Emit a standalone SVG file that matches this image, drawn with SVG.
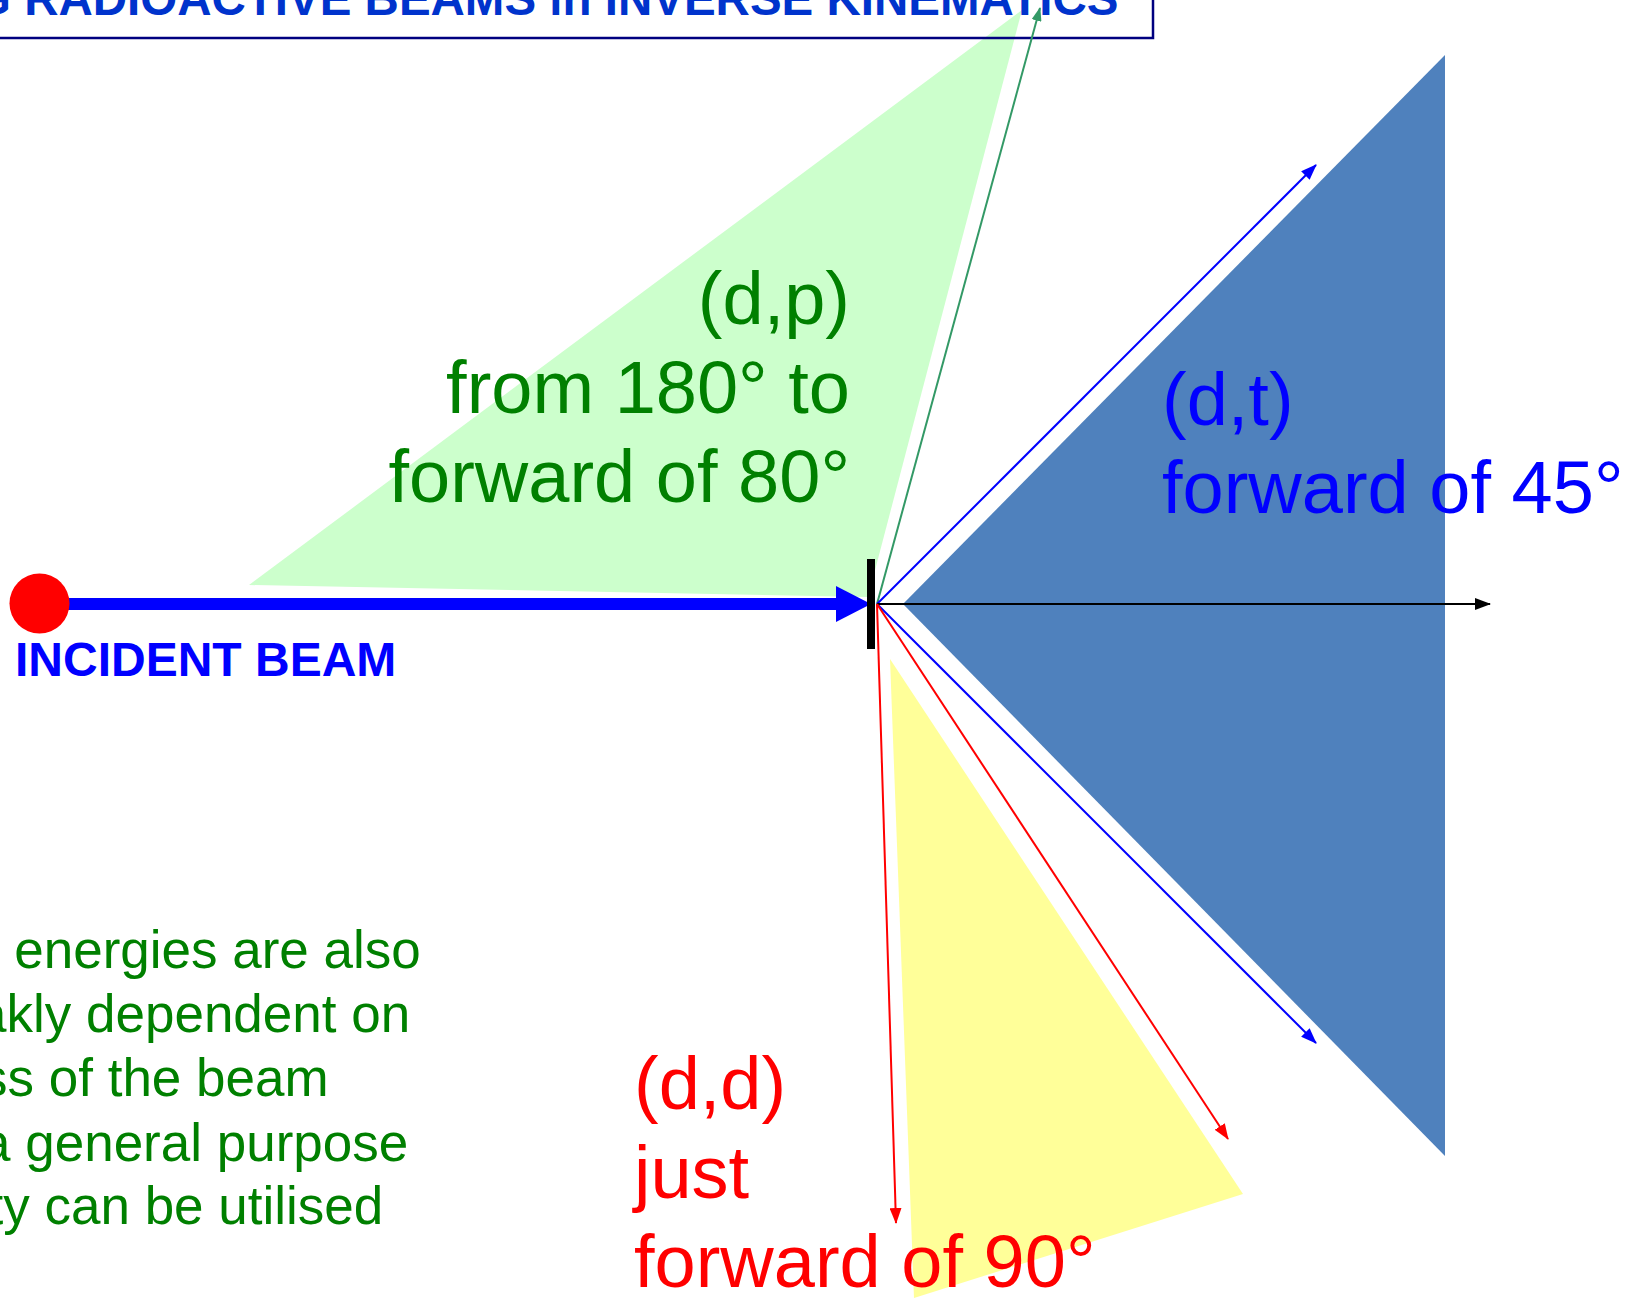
<svg xmlns="http://www.w3.org/2000/svg" width="1628" height="1305" viewBox="0 0 1628 1305">
<style>
text{font-family:"Liberation Sans",Arial,Helvetica,sans-serif}
.big{font-size:74px}
.note{font-size:53px;fill:#008000}
.ln{fill:none;stroke-width:2}
</style>
<defs>
<marker id="mBlue" markerUnits="userSpaceOnUse" markerWidth="16" markerHeight="12" refX="15" refY="6" orient="auto"><path d="M0,0L16,6L0,12z" fill="#0000FF"/></marker>
<marker id="mRed" markerUnits="userSpaceOnUse" markerWidth="16" markerHeight="12" refX="15" refY="6" orient="auto"><path d="M0,0L16,6L0,12z" fill="#FF0000"/></marker>
<marker id="mBlack" markerUnits="userSpaceOnUse" markerWidth="16" markerHeight="12" refX="15" refY="6" orient="auto"><path d="M0,0L16,6L0,12z" fill="#000000"/></marker>
<marker id="mGreen" markerUnits="userSpaceOnUse" markerWidth="14" markerHeight="10" refX="13" refY="5" orient="auto"><path d="M0,0L14,5L0,10z" fill="#339966"/></marker>
<marker id="mBeam" markerUnits="userSpaceOnUse" markerWidth="36" markerHeight="38" refX="0" refY="19" orient="auto"><path d="M0,1L35,19L0,37z" fill="#0000FF"/></marker>
</defs>
<rect width="1628" height="1305" fill="#FFFFFF"/>

<g id="cone-dp"><polygon points="249,585 1022,10 868,597" fill="#CCFFCC"/></g>
<g id="cone-dt"><polygon points="903,604 1445,55 1445,1156" fill="#4F81BD"/></g>
<g id="cone-dd"><polygon points="890,659 1243,1194 914,1298" fill="#FFFF99"/></g>

<g id="title">
<rect x="-10" y="-10" width="1163" height="48" fill="none" stroke="#000080" stroke-width="2.5"/>
<text x="-26" y="15" font-size="47.5" font-weight="bold" fill="#0033CC">G RADIOACTIVE BEAMS in INVERSE KINEMATICS</text>
</g>

<g id="connectors">
<path id="beam" d="M40,604L836,604" stroke="#0000FF" stroke-width="12" fill="none" marker-end="url(#mBeam)"/>
<path class="ln" d="M877,604L1040,8" stroke="#339966" stroke-width="1.8" marker-end="url(#mGreen)"/>
<path class="ln" d="M877,604L1316,165" stroke="#0000FF" marker-end="url(#mBlue)"/>
<path class="ln" d="M877,604L1316,1043" stroke="#0000FF" marker-end="url(#mBlue)"/>
<path class="ln" d="M877,604L1490,604" stroke="#000000" marker-end="url(#mBlack)"/>
<path class="ln" d="M877,604L896,1223" stroke="#FF0000" marker-end="url(#mRed)"/>
<path class="ln" d="M877,604L1228,1139" stroke="#FF0000" marker-end="url(#mRed)"/>
</g>

<g id="source"><circle cx="39.5" cy="603.5" r="30" fill="#FF0000"/></g>
<g id="target"><rect x="867" y="559" width="8" height="90" fill="#000000"/></g>

<g id="label-beam"><text x="15" y="676" font-size="48" font-weight="bold" fill="#0000FF">INCIDENT BEAM</text></g>

<g id="label-dp" class="big" fill="#008000" text-anchor="end">
<text x="850" y="324">(d,p)</text>
<text x="850" y="413">from 180° to</text>
<text x="850" y="502">forward of 80°</text>
</g>

<g id="label-dt" class="big" fill="#0000FF">
<text x="1162" y="425">(d,t)</text>
<text x="1162" y="513">forward of 45°</text>
</g>

<g id="label-dd" class="big" fill="#FF0000">
<text x="634" y="1109">(d,d)</text>
<text x="634" y="1198">just</text>
<text x="634" y="1287">forward of 90°</text>
</g>

<g id="note">
<text class="note" x="-30" y="968">e energies are also</text>
<text class="note" x="-23" y="1032">akly dependent on</text>
<text class="note" x="-19" y="1096">ss of the beam</text>
<text class="note" x="-19" y="1161">a general purpose</text>
<text class="note" x="-11.5" y="1224">ty can be utilised</text>
</g>
</svg>
